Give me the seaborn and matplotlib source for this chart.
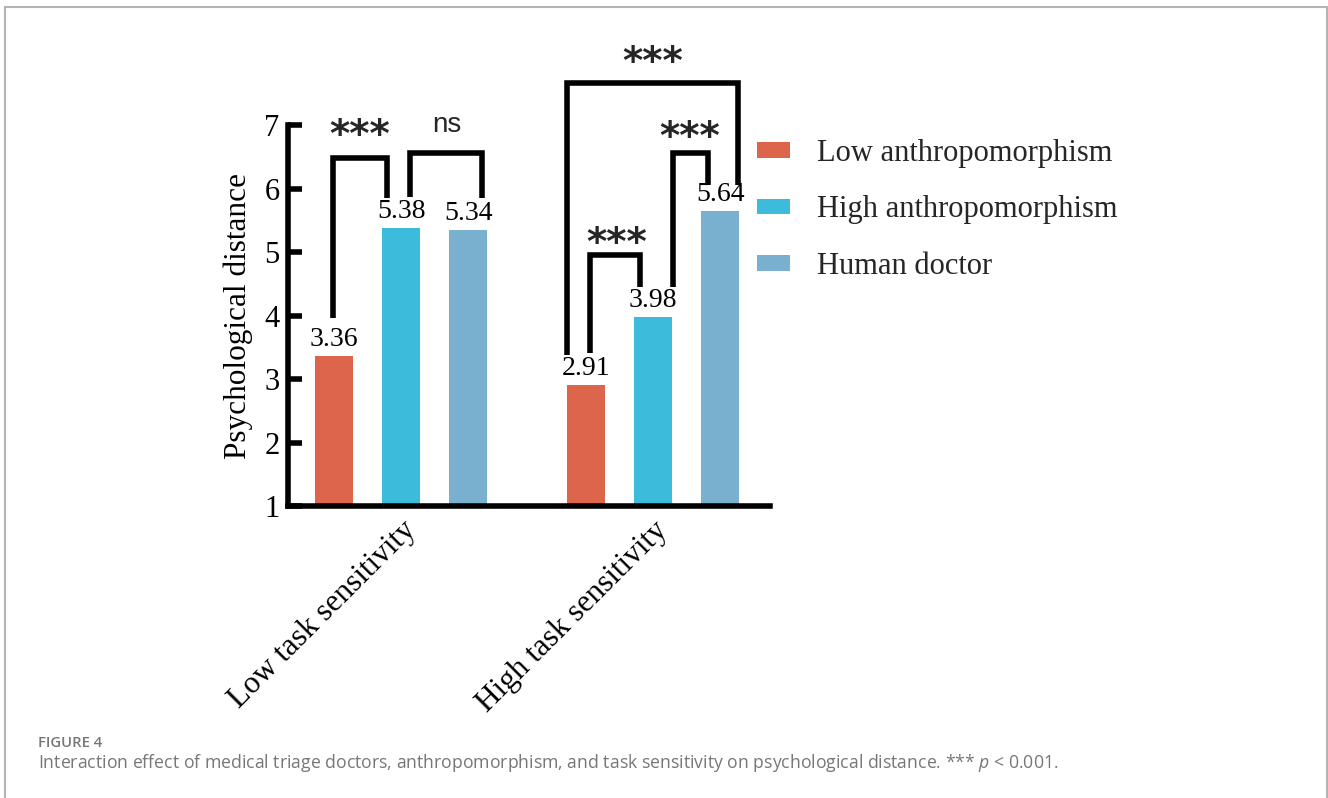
import matplotlib
matplotlib.use("Agg")
import matplotlib.pyplot as plt
from matplotlib.lines import Line2D
import pandas as pd
import seaborn as sns

# ---- data -------------------------------------------------------------
tasks = ["Low task sensitivity", "High task sensitivity"]
conditions = ["Low anthropomorphism", "High anthropomorphism", "Human doctor"]
low_anthro = [3.36, 2.91]
high_anthro = [5.38, 3.98]
human_doctor = [5.34, 5.64]
y_ticks = [1, 2, 3, 4, 5, 6, 7]

# significance brackets: x_left, x_right, y_top, y_left_end, y_right_end
brackets = [
    (-0.270, -0.056, 6.48, 3.96, 5.85),
    (0.036, 0.320, 6.56, 5.87, 5.85),
    (0.659, 1.337, 7.66, 3.38, 6.06),
    (0.750, 0.948, 4.95, 3.41, 4.45),
    (1.079, 1.218, 6.56, 4.45, 6.06),
]
# bracket labels: text, x, y
bracket_labels = [
    ("***", -0.167, 6.83),
    ("ns", 0.180, 7.00),
    ("***", 1.000, 7.98),
    ("***", 0.857, 5.12),
    ("***", 1.147, 6.80),
]

colors = ["#DC654B", "#3DBBDA", "#7AB0CF"]

df = pd.DataFrame({
    "task": tasks * 3,
    "condition": [c for c in conditions for _ in tasks],
    "value": low_anthro + high_anthro + human_doctor,
})

# ---- style ------------------------------------------------------------
sns.set_theme(style="white")
plt.rcParams["font.family"] = ["Liberation Serif", "DejaVu Serif"]
plt.rcParams["mathtext.fontset"] = "custom"
plt.rcParams["mathtext.rm"] = "Open Sans"
plt.rcParams["mathtext.it"] = "Open Sans:italic"

W, H = 1328, 798
fig = plt.figure(figsize=(W / 100, H / 100), dpi=100)
ax = fig.add_axes([288 / W, 1 - 506 / H, (770 - 288) / W, (506 - 125) / H])

sns.barplot(
    data=df, x="task", y="value", hue="condition",
    order=tasks, hue_order=conditions, palette=colors,
    width=0.8, gap=0.434, saturation=1, errorbar=None,
    linewidth=0, ax=ax,
)

# value labels above each bar
for cont in ax.containers:
    ax.bar_label(cont, fmt="%.2f", padding=3, fontsize=20, color="black")

# axes
ax.set_ylim(1, 7)
ax.set_yticks(y_ticks)
ax.set_xlim(-0.45, 1.465)
ax.set_xlabel("")
ax.set_ylabel("Psychological distance", fontsize=22.5, labelpad=8, color="black")
for side in ("top", "right"):
    ax.spines[side].set_visible(False)
for side in ("left", "bottom"):
    ax.spines[side].set_linewidth(4)
    ax.spines[side].set_color("black")
ax.tick_params(axis="y", direction="in", length=10, width=4, labelsize=22,
               pad=6, colors="black", left=True)
ax.tick_params(axis="x", direction="in", length=9, width=4, labelsize=22.5,
               pad=7, colors="black", bottom=True)
for lab in ax.get_xticklabels():
    lab.set_rotation(45)
    lab.set_ha("right")
    lab.set_va("top")
    lab.set_rotation_mode("anchor")

# significance brackets
for xl, xr, yt, yl, yr in brackets:
    ax.plot([xl, xl, xr, xr], [yl, yt, yt, yr], color="black", lw=4,
            clip_on=False, solid_capstyle="butt", solid_joinstyle="miter")
for txt, x, y in bracket_labels:
    if txt == "ns":
        ax.text(x, y, txt, ha="center", va="center", fontsize=20,
                family="Liberation Sans", clip_on=False)
    else:
        ax.text(x, y, txt, ha="center", va="center", fontsize=28,
                family="DejaVu Sans", fontweight="bold", clip_on=False)

# legend
handles, labels = ax.get_legend_handles_labels()
ax.get_legend().remove()
fig.legend(handles, labels, loc="upper left",
           bbox_to_anchor=(757 / W, 1 - 139 / H),
           frameon=False, fontsize=22, handlelength=1.08, handleheight=0.4,
           handletextpad=0.88, labelspacing=0.9, borderpad=0,
           borderaxespad=0)

# caption
cap_color = "#777777"
fig.text(38 / W, 1 - 747 / H, "FIGURE 4", family="Open Sans",
         fontweight="semibold", fontsize=10.7, color=cap_color, va="baseline")
fig.text(38 / W, 1 - 768 / H,
         "Interaction effect of medical triage doctors, anthropomorphism, and "
         "task sensitivity on psychological distance. *** $p$ < 0.001.",
         family="Open Sans", fontsize=12.7, color=cap_color, va="baseline")

# frame
frame_kw = dict(transform=fig.transFigure, color="#b4b4b4", lw=1.5)
fig.add_artist(Line2D([4.5 / W, 1326.5 / W], [1 - 6.5 / H] * 2, **frame_kw))
fig.add_artist(Line2D([4.5 / W] * 2, [0, 1 - 6.5 / H], **frame_kw))
fig.add_artist(Line2D([1326.5 / W] * 2, [0, 1 - 6.5 / H], **frame_kw))

fig.savefig("out.png", dpi=100)
